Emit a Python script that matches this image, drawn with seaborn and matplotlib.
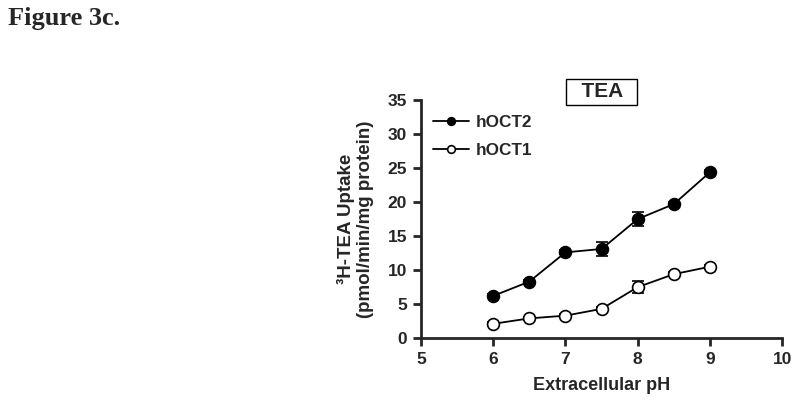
import matplotlib
matplotlib.use("Agg")
import matplotlib.pyplot as plt
import numpy as np
import pandas as pd
import seaborn as sns

# data
ph = [6.0, 6.5, 7.0, 7.5, 8.0, 8.5, 9.0]
hoct2 = [6.2, 8.3, 12.6, 13.1, 17.5, 19.7, 24.4]
hoct2_err = [0.3, 0.3, 0.3, 1.0, 1.0, 0.3, 0.3]
hoct1 = [2.1, 2.9, 3.3, 4.3, 7.5, 9.4, 10.5]
hoct1_err = [0.2, 0.2, 0.2, 0.3, 0.9, 0.3, 0.3]

x_ticks = [5, 6, 7, 8, 9, 10]
y_ticks = [0, 5, 10, 15, 20, 25, 30, 35]

sns.set_theme(style="ticks")
plt.rcParams["font.family"] = ["Liberation Sans", "DejaVu Sans"]
plt.rcParams["font.weight"] = "bold"

df = pd.DataFrame({
    "pH": ph * 2,
    "uptake": hoct2 + hoct1,
    "series": ["hOCT2"] * len(ph) + ["hOCT1"] * len(ph),
})

fig = plt.figure(figsize=(8, 4.03), dpi=100)
ax = fig.add_axes([0.526, 0.161, 0.452, 0.591])

# error bars first so the markers sit on top
ax.errorbar(ph, hoct2, yerr=hoct2_err, fmt="none", ecolor="black",
            elinewidth=1.2, capsize=4, capthick=1.2, zorder=2)
ax.errorbar(ph, hoct1, yerr=hoct1_err, fmt="none", ecolor="black",
            elinewidth=1.2, capsize=4, capthick=1.2, zorder=2)

sns.lineplot(data=df[df["series"] == "hOCT2"], x="pH", y="uptake", ax=ax,
             color="black", lw=1.3, marker="o", markersize=8.5,
             markerfacecolor="black", markeredgecolor="black",
             markeredgewidth=1.2, label="hOCT2", zorder=3)
sns.lineplot(data=df[df["series"] == "hOCT1"], x="pH", y="uptake", ax=ax,
             color="black", lw=1.3, marker="o", markersize=8.5,
             markerfacecolor="white", markeredgecolor="black",
             markeredgewidth=1.2, label="hOCT1", zorder=3)

ax.set_xlim(5, 10)
ax.set_ylim(0, 35)
ax.set_xticks(x_ticks)
ax.set_yticks(y_ticks)
ax.tick_params(axis="both", labelsize=12.5, width=2.0, length=6,
               direction="out", pad=4)
for lbl in ax.get_xticklabels() + ax.get_yticklabels():
    lbl.set_fontweight("bold")

sns.despine(ax=ax)
for side in ["left", "bottom"]:
    ax.spines[side].set_linewidth(2.0)

ax.set_xlabel("Extracellular pH", fontsize=13, fontweight="bold", labelpad=7)
ax.set_ylabel("³H-TEA Uptake\n(pmol/min/mg protein)", fontsize=13.5,
              fontweight="bold", labelpad=10, linespacing=1.1)

leg = ax.legend(loc="upper left", bbox_to_anchor=(0.0, 0.985), frameon=False,
                prop={"weight": "bold", "size": 12.3}, handlelength=2.1,
                markerscale=0.65, labelspacing=0.75, handletextpad=0.4,
                borderaxespad=0.3)

ax.text(0.50, 1.034, "  TEA  ", transform=ax.transAxes, ha="center",
        va="center", fontsize=15, fontweight="bold",
        bbox=dict(boxstyle="square,pad=0.17", facecolor="white",
                  edgecolor="black", linewidth=1.0))

fig.text(0.01, 0.955, "Figure 3c.", ha="left", va="center", fontsize=19,
         fontweight="bold", family=["Liberation Serif", "DejaVu Serif"])

fig.savefig("out.png", dpi=100)
